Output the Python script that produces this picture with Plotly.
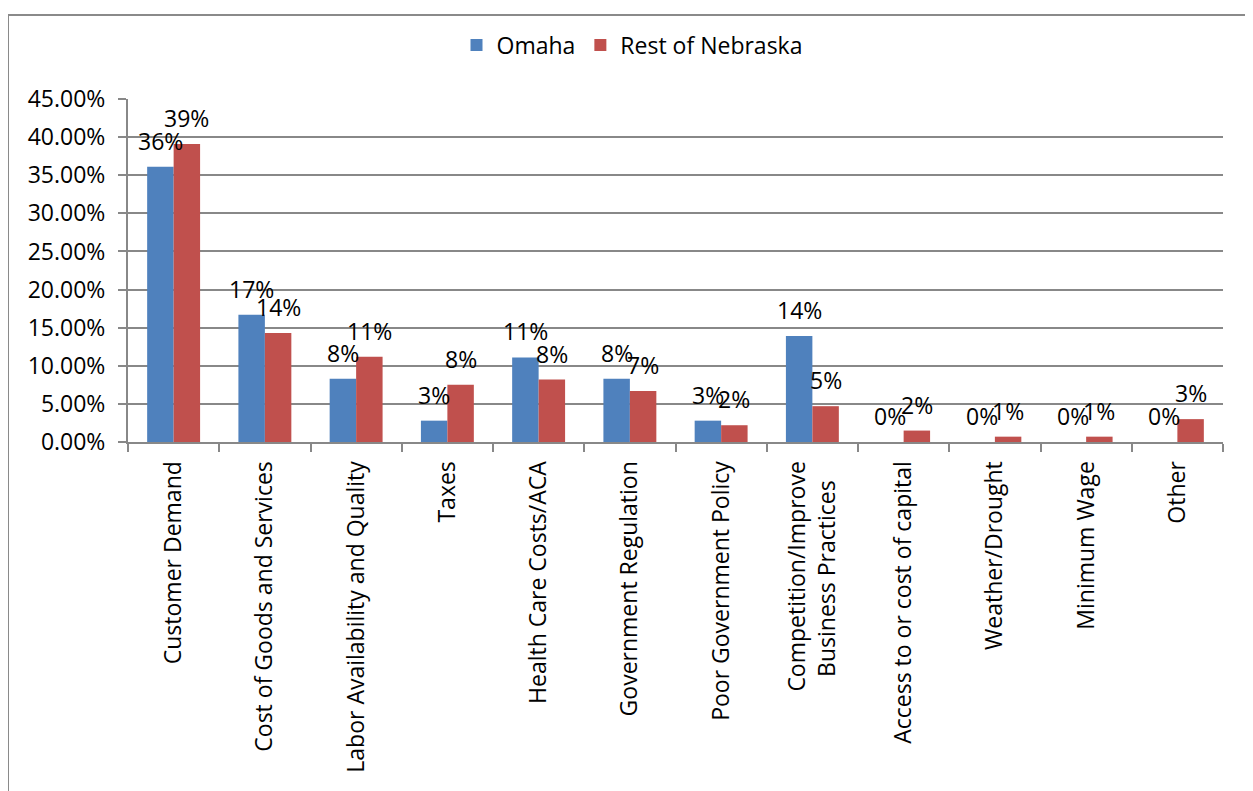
import plotly.graph_objects as go

categories = [
    "Customer Demand", "Cost of Goods and Services", "Labor Availability and Quality",
    "Taxes", "Health Care Costs/ACA", "Government Regulation", "Poor Government Policy",
    "Competition/Improve<br>Business Practices", "Access to or cost of capital",
    "Weather/Drought", "Minimum Wage", "Other",
]
tick_labels = [
    "Customer Demand", "Cost of Goods and Services", "Labor Availability and Quality",
    "Taxes", "Health Care Costs/ACA", "Government Regulation", "Poor Government Policy",
    "Competition/Improve<br>Business Practices\u2002\u2004", "Access to or cost of capital",
    "Weather/Drought", "Minimum Wage", "Other",
]
omaha = [0.361, 0.167, 0.083, 0.028, 0.111, 0.083, 0.028, 0.139, 0.0, 0.0, 0.0, 0.0]
rest_ne = [0.391, 0.143, 0.112, 0.075, 0.082, 0.067, 0.022, 0.047, 0.015, 0.007, 0.007, 0.03]
series_names = ["Omaha", "Rest of Nebraska"]
colors = ["#4F81BD", "#C0504D"]

# page body has an 8px margin; figure sized so the plot lands where the reference has it
OFF = 8
W, H = 1253 - OFF, 791 - OFF
ML, MR, MT, MB = 128 - OFF, 30, 99 - OFF, 349
FONT = "Open Sans"
FS = 23
GRID = "#888888"

plot_w = W - ML - MR
plot_h = H - MT - MB
bargap = 0.42
bar_px = plot_w / len(categories) * (1 - bargap) / 2

fig = go.Figure()
for name, vals, col in zip(series_names, [omaha, rest_ne], colors):
    fig.add_trace(go.Bar(x=categories, y=vals, name=name, marker=dict(color=col, line=dict(width=0))))

annotations = []
for k, vals in enumerate([omaha, rest_ne]):
    shift = (-0.5 if k == 0 else 0.5) * bar_px
    for c, v in zip(categories, vals):
        annotations.append(dict(
            x=c, y=v, xref="x", yref="y", text=f"{v:.0%}", showarrow=False,
            xshift=shift, yshift=26, yanchor="middle", xanchor="center",
            font=dict(family=FONT, size=FS, color="black"),
        ))

def px_x(p):  # page pixel -> paper x
    return (p - OFF - ML) / plot_w

def px_y(p):  # page pixel -> paper y
    return (H - MB - (p - OFF)) / plot_h

fig.update_layout(
    width=W, height=H,
    margin=dict(l=ML, r=MR, t=MT, b=MB),
    paper_bgcolor="white", plot_bgcolor="white",
    barmode="group", bargap=bargap, bargroupgap=0,
    font=dict(family=FONT, size=FS, color="black"),
    legend=dict(orientation="h", xref="container", yref="container",
                x=(632 - OFF) / W, y=1 - (45 - OFF) / H,
                xanchor="center", yanchor="middle", font=dict(family=FONT, size=FS)),
    annotations=annotations,
    shapes=[dict(type="rect", xref="paper", yref="paper",
                 x0=px_x(8), x1=px_x(1253 + 30), y0=px_y(791 + 30), y1=px_y(15),
                 line=dict(color="#8a8a8a", width=2), fillcolor="rgba(0,0,0,0)", layer="below")],
    xaxis=dict(
        type="category", tickangle=-90, tickson="boundaries", ticks="outside", ticklen=8,
        tickcolor=GRID, tickwidth=2, showline=True, linecolor=GRID, linewidth=2,
        showgrid=False, tickfont=dict(family=FONT, size=FS), ticklabelstandoff=8,
        tickmode="array", tickvals=categories, ticktext=tick_labels,
    ),
    yaxis=dict(
        range=[0, 0.45], dtick=0.05, tickformat=".2%", ticks="outside", ticklen=8,
        tickcolor=GRID, tickwidth=2, showline=True, linecolor=GRID, linewidth=2,
        showgrid=True, gridcolor=GRID, gridwidth=2, zeroline=False,
        tickfont=dict(family=FONT, size=FS), ticklabelstandoff=8,
    ),
)

fig.write_html("out.html")
